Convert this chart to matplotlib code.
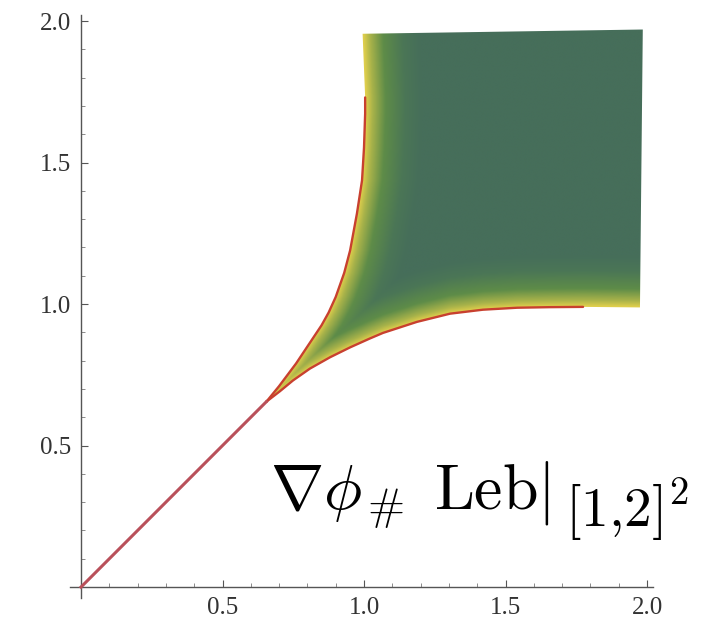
import numpy as np
import matplotlib
matplotlib.use("Agg")
import matplotlib.pyplot as plt
from matplotlib.colors import LinearSegmentedColormap
from matplotlib.patches import Polygon

plt.rcParams["mathtext.fontset"] = "cm"

# boundary of the image region
upper_x = [0.655, 0.70, 0.76, 0.81, 0.85, 0.875, 0.90, 0.93, 0.951, 0.975, 0.993, 1.0, 1.004, 1.004]
upper_y = [0.655, 0.71, 0.79, 0.865, 0.925, 0.97, 1.025, 1.11, 1.19, 1.32, 1.437, 1.553, 1.673, 1.73]
lower_x = [0.655, 0.703, 0.749, 0.809, 0.88, 0.951, 1.02, 1.067, 1.187, 1.304, 1.42, 1.541, 1.657, 1.774]
lower_y = [0.655, 0.692, 0.730, 0.772, 0.812, 0.847, 0.878, 0.898, 0.937, 0.966, 0.980, 0.987, 0.989, 0.990]
# straight edges of the square part (no red line)
edge_x = [1.774, 1.975, 1.985, 0.995, 1.004]
edge_y = [0.990, 0.988, 1.97, 1.955, 1.73]

diag_x = [0.0, 0.655]
diag_y = [0.0, 0.655]

xticks = [0.5, 1.0, 1.5, 2.0]
yticks = [0.5, 1.0, 1.5, 2.0]
ticklabels = ["0.5", "1.0", "1.5", "2.0"]

fig = plt.figure(figsize=(7.06, 6.28), dpi=100)
ax = fig.add_axes([0.0987, 0.0455, 0.8258, 0.9317])
ax.set_xlim(-0.04, 2.02)
ax.set_ylim(-0.04, 2.02)

# shading: yellow near the curved edges, dark green inside
cmap = LinearSegmentedColormap.from_list(
    "dens", [(0.0, "#e0cf4c"), (0.12, "#a9b34a"), (0.35, "#5e8c48"),
             (0.7, "#4b7656"), (1.0, "#466e5a")])
gx = np.linspace(0.6, 2.0, 700)
gy = np.linspace(0.6, 2.0, 700)
X, Y = np.meshgrid(gx, gy)
xl = np.interp(Y, upper_y + [1.96], upper_x + [0.995])
yb = np.interp(X, lower_x + [1.975], lower_y + [0.988])
t = np.minimum((X - xl) / 0.2, (Y - yb) / 0.18)
t = np.clip(t, 0, 1)
im = ax.imshow(t, extent=(0.6, 2.0, 0.6, 2.0), origin="lower", cmap=cmap,
               vmin=0, vmax=1, interpolation="bilinear", zorder=1)

outline = list(zip(lower_x, lower_y)) + list(zip(edge_x, edge_y)) + \
    list(zip(upper_x[::-1], upper_y[::-1]))
poly = Polygon(outline, closed=True, facecolor="none", edgecolor="none")
ax.add_patch(poly)
im.set_clip_path(poly)

ax.plot(upper_x, upper_y, color="#c8402f", lw=1.7, zorder=3, solid_capstyle="round")
ax.plot(lower_x, lower_y, color="#c8402f", lw=1.7, zorder=3, solid_capstyle="round")
ax.plot(diag_x, diag_y, color="#b9505a", lw=2.2, zorder=3)

ax.spines["top"].set_visible(False)
ax.spines["right"].set_visible(False)
ax.spines["left"].set_position(("data", 0))
ax.spines["bottom"].set_position(("data", 0))
for s in ["left", "bottom"]:
    ax.spines[s].set_color("#555555")
    ax.spines[s].set_linewidth(1.0)

ax.set_xticks(xticks)
ax.set_xticklabels(ticklabels)
ax.set_yticks(yticks)
ax.set_yticklabels(ticklabels)
ax.set_xticks(np.arange(0.1, 2.0, 0.1), minor=True)
ax.set_yticks(np.arange(0.1, 2.0, 0.1), minor=True)
ax.tick_params(which="major", direction="in", length=5, width=0.8, color="#555555",
               labelsize=18, labelcolor="#333333", pad=7)
ax.tick_params(which="minor", direction="in", length=3, width=0.6, color="#777777")
for lab in ax.get_xticklabels() + ax.get_yticklabels():
    lab.set_family("Liberation Serif")

# label: main part and the restriction subscript set a bit larger, as in TeX
ax.text(0.668, 0.275, r"$\nabla\phi_{\,\#}\;\,\mathrm{Leb}|$",
        fontsize=46, ha="left", va="baseline", zorder=4)
ax.text(1.71, 0.211, r"$[1{,}2]^2$",
        fontsize=40, ha="left", va="baseline", zorder=4)

fig.savefig("out.png", dpi=100)
